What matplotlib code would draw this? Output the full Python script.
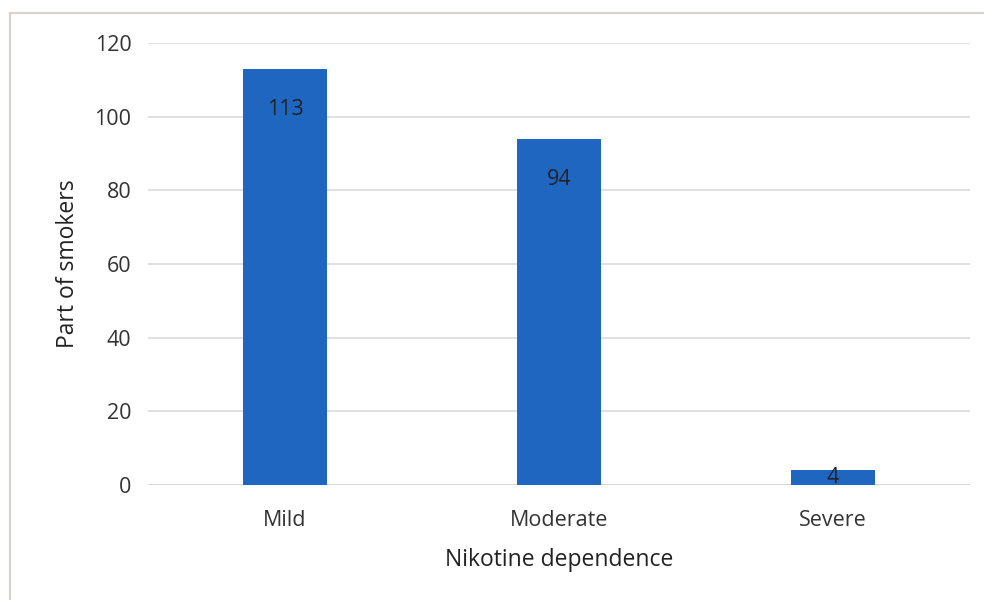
import matplotlib.pyplot as plt
from matplotlib.patches import Rectangle

levels = ["Mild", "Moderate", "Severe"]
smokers = [113, 94, 4]

plt.rcParams['font.family'] = ['Open Sans', 'DejaVu Sans']

fig = plt.figure(figsize=(9.84, 6.0), dpi=100)
fig.patch.set_facecolor("white")

# outer chart frame, open to the right and bottom like a cropped export
fig.add_artist(Rectangle((10 / 984, -0.05), 1.1, 1 - 13 / 600 + 0.05,
                         transform=fig.transFigure, fill=False,
                         edgecolor="#d8d3d1", linewidth=1.6))

ax = fig.add_axes([148 / 984, 1 - 485 / 600, 822 / 984, 442 / 600])
x = range(len(levels))
bars = ax.bar(x, smokers, width=0.31, color="#1f66c1", zorder=3)

for rect, val in zip(bars, smokers):
    top = rect.get_height()
    # labels sit inside the bar end; the short bar gets it centred
    ypos = top - 11 if top > 20 else top / 2
    ax.text(rect.get_x() + rect.get_width() / 2, ypos, str(val),
            ha="center", va="center", fontsize=15.5, color="#222222", zorder=4)

ax.set_xlim(-0.5, 2.5)
ax.set_ylim(0, 120)
ax.set_yticks(range(0, 121, 20))
ax.set_xticks(list(x))
ax.set_xticklabels(levels)
ax.tick_params(axis="both", length=0, labelsize=15.5, colors="#333333")
ax.tick_params(axis="y", pad=12)
ax.tick_params(axis="x", pad=18)
ax.grid(axis="y", color="#dddad8", linewidth=1.2, zorder=0)
for s in ax.spines.values():
    s.set_visible(False)
ax.axhline(0, color="#d9d6d4", linewidth=1.2, zorder=2)

ax.set_ylabel("Part of smokers", fontsize=16.5, color="#222222", labelpad=10)
ax.set_xlabel("Nikotine dependence", fontsize=16.5, color="#222222", labelpad=12)

fig.savefig("out.png", dpi=100, facecolor="white")
